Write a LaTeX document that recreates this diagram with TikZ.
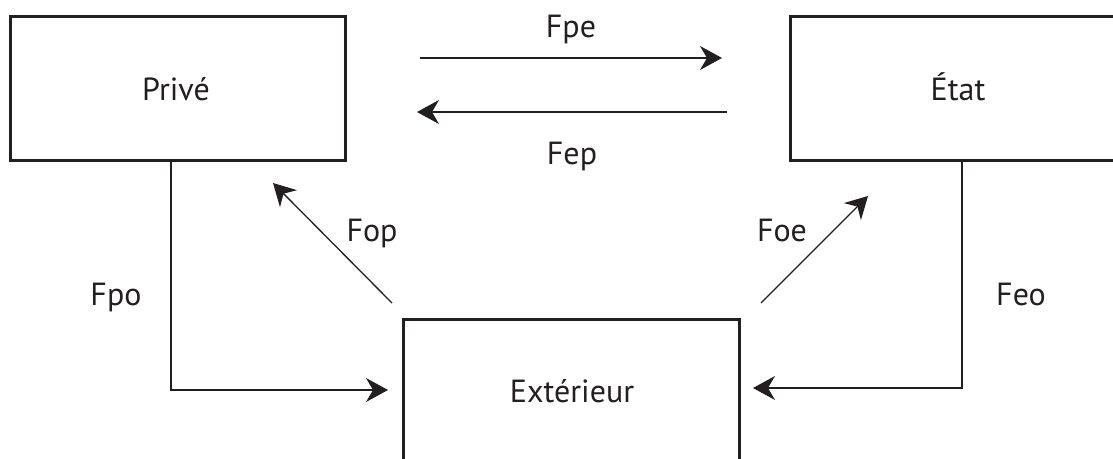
\documentclass[tikz,border=0pt]{standalone}
\usepackage{fontspec}
\setmainfont{PT Sans}
\usetikzlibrary{arrows.meta}
\definecolor{ink}{RGB}{35,31,32}
\begin{document}
\begin{tikzpicture}[x=1pt,y=-1pt,
  every node/.style={font=\fontsize{32}{38}\selectfont, text=ink, inner sep=0pt},
  block/.style={draw=ink, line width=3pt, rectangle},
  flow/.style={draw=ink, line width=1.3pt,
    -{Stealth[length=22pt, width=24pt, inset=7pt]}},
  lbl/.style={anchor=base}]
  \useasboundingbox (0,0) rectangle (1113,458);
  \clip (0,0) rectangle (1113,458);

  % sectors
  \node[block, minimum width=335pt, minimum height=144pt] (prive) at (177.5,88) {};
  \node[block, minimum width=340pt, minimum height=144pt] (etat) at (960,88) {};
  \node[block, minimum width=336pt, minimum height=160pt] (ext) at (571,399) {};

  % sector names
  \node[lbl] (tprive) at (176,100) {Privé};
  \node[lbl] (tetat) at (958,100) {État};
  \node[lbl] (text) at (572,402) {Extérieur};

  % free ends of the flows
  \coordinate (pe1) at (420,58);  \coordinate (pe2) at (722,58);
  \coordinate (ep1) at (727,112); \coordinate (ep2) at (417,112);
  \coordinate (op1) at (392,303); \coordinate (op2) at (273,183);
  \coordinate (oe1) at (761,303); \coordinate (oe2) at (868,196);
  \coordinate (po2) at (388,390);
  \coordinate (eo2) at (753,388);

  % flows
  \draw[flow] (pe1) -- (pe2);
  \draw[flow] (ep1) -- (ep2);
  \draw[flow] (op1) -- (op2);
  \draw[flow] (oe1) -- (oe2);
  \draw[flow] (prive.south -| 171,0) |- (po2);
  \draw[flow] (etat.south -| 962,0) |- (eo2);

  % flow labels
  \node[lbl] (lpe) at (571,37) {Fpe};
  \node[lbl] (lep) at (572,164) {Fep};
  \node[lbl] (lop) at (372,241) {Fop};
  \node[lbl] (loe) at (782,241) {Foe};
  \node[lbl] (lpo) at (116,305) {Fpo};
  \node[lbl] (leo) at (1021,305) {Feo};
\end{tikzpicture}
\end{document}
